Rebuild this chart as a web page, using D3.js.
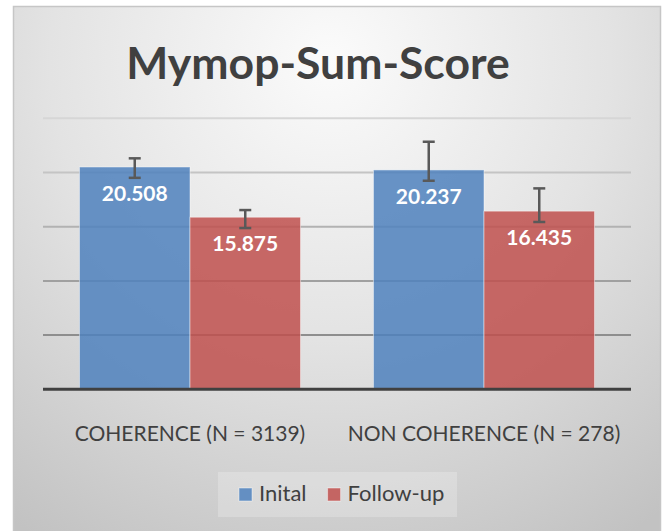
<!DOCTYPE html>
<html>
<head>
<meta charset="utf-8">
<script src="https://cdn.jsdelivr.net/npm/d3@7"></script>
<style>
  body { margin: 0; background: #fff; }
  text { font-family: Lato, "Open Sans", sans-serif; }
</style>
</head>
<body>
<div id="chart"></div>
<script>
const title = 'Mymop-Sum-Score'
const categories = ['COHERENCE (N = 3139)', 'NON COHERENCE (N = 278)']
const series = ['Inital', 'Follow-up']
const initial = [20.508, 20.237]
const followUp = [15.875, 16.435]
// error bar extents (plus / minus)
const initialErrPlus = [0.8, 2.6]
const initialErrMinus = [1.0, 1.0]
const followErrPlus = [0.66, 2.1]
const followErrMinus = [1.0, 1.0]
const yTicks = [5, 10, 15, 20, 25]

const width = 665
const height = 531
const colors = { 'Inital': '#4f81bd', 'Follow-up': '#c0504d' }

const rows = []
categories.forEach((cat, i) => {
  rows.push({ cat, s: 'Inital', v: initial[i], up: initialErrPlus[i], dn: initialErrMinus[i] })
  rows.push({ cat, s: 'Follow-up', v: followUp[i], up: followErrPlus[i], dn: followErrMinus[i] })
})

const svg = d3.select('#chart')
  .append('svg')
  .attr('width', width)
  .attr('height', height)

const defs = svg.append('defs')
const bg = defs.append('radialGradient')
  .attr('id', 'bg')
  .attr('gradientUnits', 'userSpaceOnUse')
  .attr('cx', 330).attr('cy', 60).attr('r', 560)
bg.append('stop').attr('offset', 0).attr('stop-color', '#fbfbfb')
bg.append('stop').attr('offset', 0.5).attr('stop-color', '#e3e3e3')
bg.append('stop').attr('offset', 1).attr('stop-color', '#c2c2c2')

// chart frame
svg.append('rect')
  .attr('x', 13.5).attr('y', 6.5)
  .attr('width', 647).attr('height', 540)
  .attr('fill', 'url(#bg)')
  .attr('stroke', '#c6c6c6')
  .attr('stroke-width', 1.5)

// title
svg.append('text')
  .attr('x', 318)
  .attr('y', 79)
  .attr('text-anchor', 'middle')
  .attr('font-size', 44.5)
  .attr('font-weight', 700)
  .attr('fill', '#404040')
  .text(title)

const x0 = d3.scaleBand().domain(categories).range([43, 631]).padding(0)
const x1 = d3.scaleBand().domain(series).range([0, x0.bandwidth()]).paddingInner(0).paddingOuter(0.33)
const y = d3.scaleLinear().domain([0, 25]).range([389.3, 118.3])
const gridColor = d3.scaleLinear().domain([5, 25]).range(['#8e8e8e', '#d6d6d6'])

// gridlines
svg.append('g')
  .selectAll('line')
  .data(yTicks)
  .join('line')
  .attr('x1', 43).attr('x2', 631)
  .attr('y1', d => y(d)).attr('y2', d => y(d))
  .attr('stroke', d => gridColor(d))
  .attr('stroke-width', 2)

// bars
const bars = svg.append('g')
bars.selectAll('rect')
  .data(rows)
  .join('rect')
  .attr('x', d => x0(d.cat) + x1(d.s))
  .attr('y', d => y(d.v))
  .attr('width', x1.bandwidth())
  .attr('height', d => y(0) - y(d.v))
  .attr('fill', d => colors[d.s])
  .attr('fill-opacity', 0.85)
  .attr('stroke', '#ffffff')
  .attr('stroke-opacity', 0.45)
  .attr('stroke-width', 1)

// axis baseline
svg.append('line')
  .attr('x1', 43).attr('x2', 631)
  .attr('y1', y(0)).attr('y2', y(0))
  .attr('stroke', '#404040')
  .attr('stroke-width', 3)

// error bars
const err = svg.append('g')
  .attr('stroke', '#595959')
  .attr('stroke-width', 2.5)
err.selectAll('g')
  .data(rows)
  .join('g')
  .each(function (d) {
    const g = d3.select(this)
    const cx = x0(d.cat) + x1(d.s) + x1.bandwidth() / 2
    g.append('line').attr('x1', cx).attr('x2', cx)
      .attr('y1', y(d.v + d.up)).attr('y2', y(d.v - d.dn))
    g.append('line').attr('x1', cx - 6).attr('x2', cx + 6)
      .attr('y1', y(d.v + d.up)).attr('y2', y(d.v + d.up))
    g.append('line').attr('x1', cx - 6).attr('x2', cx + 6)
      .attr('y1', y(d.v - d.dn)).attr('y2', y(d.v - d.dn))
  })

// data labels
svg.append('g')
  .selectAll('text')
  .data(rows)
  .join('text')
  .attr('x', d => x0(d.cat) + x1(d.s) + x1.bandwidth() / 2)
  .attr('y', d => y(d.v) + 34)
  .attr('text-anchor', 'middle')
  .attr('font-size', 21)
  .attr('font-weight', 700)
  .attr('fill', '#ffffff')
  .text(d => d3.format('.3f')(d.v))

// category labels
svg.append('g')
  .selectAll('text')
  .data(categories)
  .join('text')
  .attr('x', d => x0(d) + x0.bandwidth() / 2)
  .attr('y', 441)
  .attr('text-anchor', 'middle')
  .attr('font-size', 21)
  .attr('fill', '#404040')
  .text(d => d)

// legend
const legend = svg.append('g')
legend.append('rect')
  .attr('x', 218).attr('y', 472)
  .attr('width', 239).attr('height', 45)
  .attr('fill', '#ffffff')
  .attr('fill-opacity', 0.22)

let lx = 239
series.forEach((s) => {
  legend.append('rect')
    .attr('x', lx).attr('y', 488)
    .attr('width', 13).attr('height', 13)
    .attr('fill', colors[s])
    .attr('fill-opacity', 0.85)
    .attr('stroke', '#ffffff')
    .attr('stroke-opacity', 0.45)
  const t = legend.append('text')
    .attr('x', lx + 20)
    .attr('y', 501)
    .attr('font-size', 22)
    .attr('fill', '#404040')
    .text(s)
  lx += 20 + t.node().getComputedTextLength() + 21
})
</script>
</body>
</html>
